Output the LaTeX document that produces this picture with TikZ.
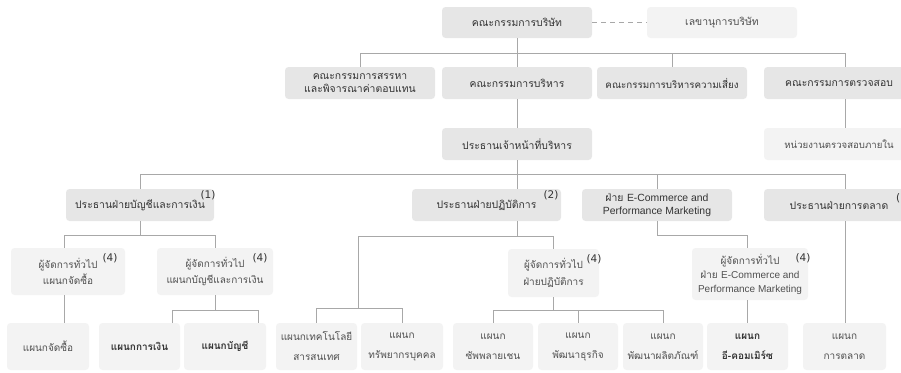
\documentclass[tikz,border=0pt]{standalone}
\usepackage{fontspec}
\setmainfont[Script=Thai]{Loma}
\newfontfamily\lat{Liberation Sans}
\newfontfamily\supf{DejaVu Sans}
\definecolor{boxdark}{HTML}{E6E6E6}
\definecolor{boxlight}{HTML}{F3F3F3}
\definecolor{txtc}{HTML}{333333}
\definecolor{txtl}{HTML}{505050}
\definecolor{linec}{HTML}{A8A8A8}
\begin{document}
\begin{tikzpicture}[x=1pt,y=-1pt,
  bx/.style={rectangle, rounded corners=3.5pt, fill=boxdark, text=txtc, align=center, inner sep=0pt, font=\fontsize{10.4}{13.5}\selectfont},
  lbx/.style={bx, fill=boxlight, text=txtl, font=\fontsize{10}{13}\selectfont},
  tbx/.style={bx, fill=boxlight, text=txtl},
  mbx/.style={lbx, font=\fontsize{10}{16.5}\selectfont},
  dbx/.style={lbx, font=\fontsize{10}{20}\selectfont, minimum height=47pt},
  bdx/.style={dbx, text=txtc, font=\bfseries\fontsize{10}{20}\selectfont},
  conn/.style={draw=linec, line width=0.8pt},
  supn/.style={inner sep=0pt, text=txtc, font=\supf\fontsize{10.5}{12}\selectfont}]
\useasboundingbox (0,0) rectangle (901,372);
\clip (0,0) rectangle (901,372);
% row 0
\node[bx, minimum width=150pt, minimum height=31pt] (board) at (517,22.5) {คณะกรรมการบริษัท};
\node[tbx, minimum width=150pt, minimum height=31pt] (sec) at (722,22.5) {เลขานุการบริษัท};
% row 1
\node[bx, minimum width=150pt, minimum height=32pt] (nom) at (360,83) {คณะกรรมการสรรหา\\และพิจารณาค่าตอบแทน};
\node[bx, minimum width=150pt, minimum height=32pt] (exec) at (517,83) {คณะกรรมการบริหาร};
\node[bx, minimum width=150pt, minimum height=32pt, font=\fontsize{9.8}{13}\selectfont] (risk) at (672,83) {คณะกรรมการบริหารความเสี่ยง};
\node[bx, minimum width=150pt, minimum height=32pt] (audit) at (839,83) {คณะกรรมการตรวจสอบ};
% row 2
\node[bx, minimum width=150pt, minimum height=32pt] (ceo) at (517,144) {ประธานเจ้าหน้าที่บริหาร};
\node[tbx, minimum width=150pt, minimum height=32pt, font=\fontsize{9.6}{13}\selectfont] (ia) at (839,144) {หน่วยงานตรวจสอบภายใน};
% row 3
\node[bx, minimum width=148pt, minimum height=32pt] (cfo) at (140,205) {ประธานฝ่ายบัญชีและการเงิน};
\node[bx, minimum width=149pt, minimum height=32pt] (coo) at (486.5,205) {ประธานฝ่ายปฏิบัติการ};
\node[bx, minimum width=150pt, minimum height=32pt] (ecom) at (657,205) {ฝ่าย {\lat E-Commerce and}\\{\lat Performance Marketing}};
\node[bx, minimum width=150pt, minimum height=32pt] (mkt) at (839,205) {ประธานฝ่ายการตลาด};
% row 4
\node[mbx, minimum width=114pt, minimum height=47pt] (m1) at (68,271.5) {ผู้จัดการทั่วไป\\แผนกจัดซื้อ};
\node[mbx, minimum width=116pt, minimum height=47pt] (m2) at (215,271.5) {ผู้จัดการทั่วไป\\แผนกบัญชีและการเงิน};
\node[mbx, minimum width=91pt, minimum height=48pt] (m3) at (553.5,273) {ผู้จัดการทั่วไป\\ฝ่ายปฏิบัติการ};
\node[lbx, font=\fontsize{10}{14}\selectfont, minimum width=116pt, minimum height=52pt] (m4) at (750,274) {ผู้จัดการทั่วไป\\ฝ่าย {\lat E-Commerce and}\\{\lat Performance Marketing}};
% row 5
\node[dbx, minimum width=82pt] (d1) at (48,346.5) {แผนกจัดซื้อ};
\node[bdx, minimum width=81pt] (d2) at (139.5,346.5) {แผนกการเงิน};
\node[bdx, minimum width=82pt] (d3) at (225,346.5) {แผนกบัญชี};
\node[dbx, minimum width=81pt] (d4) at (316.5,346.5) {แผนกเทคโนโลยี\\สารสนเทศ};
\node[dbx, minimum width=82pt] (d5) at (402,346.5) {แผนก\\ทรัพยากรบุคคล};
\node[dbx, minimum width=80pt] (d6) at (493,346.5) {แผนก\\ซัพพลายเชน};
\node[dbx, minimum width=80pt] (d7) at (578,346.5) {แผนก\\พัฒนาธุรกิจ};
\node[dbx, minimum width=80pt] (d8) at (663,346.5) {แผนก\\พัฒนาผลิตภัณฑ์};
\node[bdx, minimum width=81pt] (d9) at (747.5,346.5) {แผนก\\อี-คอมเมิร์ซ};
\node[dbx, minimum width=83pt] (d10) at (844.5,346.5) {แผนก\\การตลาด};
% superscripts
\node[supn] (s1) at (208,195) {(1)};
\node[supn] (s2) at (551,195) {(2)};
\node[supn, anchor=west] (s3) at (896,198) {(3)};
\node[supn] (s4a) at (110,258) {(4)};
\node[supn] (s4b) at (260,258) {(4)};
\node[supn] (s4c) at (594,259) {(4)};
\node[supn] (s4d) at (803,258) {(4)};
% connectors
\draw[conn, dash pattern=on 5pt off 4pt] (board.east) -- (sec.west);
\coordinate (b1L) at (360,53);
\coordinate (b1R) at (845,53);
\draw[conn] (board.south) -- (board.south |- b1L);
\draw[conn] (nom.north) -- (nom.north |- b1L) -- (b1R) -- (b1R |- audit.north);
\draw[conn] (exec.north) -- (exec.north |- b1L);
\draw[conn] (risk.north) -- (risk.north |- b1L);
\draw[conn] (exec.south) -- (ceo.north);
\draw[conn] (b1R |- audit.south) -- (b1R |- ia.north);
\coordinate (b2L) at (140,174);
\coordinate (b2R) at (845,174);
\draw[conn] (ceo.south) -- (ceo.south |- b2L);
\draw[conn] (cfo.north) -- (cfo.north |- b2L) -- (b2R) -- (b2R |- mkt.north);
\draw[conn] (ceo.south |- b2L) -- (ceo.south |- coo.north);
\draw[conn] (ecom.north) -- (ecom.north |- b2L);
\draw[conn] (b2R |- mkt.south) -- (b2R |- d10.north);
% cfo branch
\coordinate (b3L) at (64,235);
\coordinate (b3R) at (215,235);
\draw[conn] (cfo.south) -- (cfo.south |- b3L);
\draw[conn] (b3L |- m1.north) -- (b3L) -- (b3R) -- (b3R |- m2.north);
\draw[conn] (b3L |- m1.south) -- (b3L |- d1.north);
\coordinate (b7L) at (172,310);
\coordinate (b7R) at (258,310);
\draw[conn] (m2.south) -- (m2.south |- b7L);
\draw[conn] (b7L |- d2.north) -- (b7L) -- (b7R) -- (b7R |- d3.north);
% coo branch
\coordinate (b4L) at (358,236);
\draw[conn] (ceo.south |- coo.south) -- (ceo.south |- b4L);
\draw[conn] (b4L) -- (m3.north |- b4L) -- (m3.north);
\coordinate (b5) at (358,308);
\draw[conn] (b4L) -- (b5);
\draw[conn] (d4.north) -- (d4.north |- b5) -- (d5.north |- b5) -- (d5.north);
\coordinate (b8) at (553.5,310);
\draw[conn] (m3.south) -- (b8);
\draw[conn] (d6.north) -- (d6.north |- b8) -- (d8.north |- b8) -- (d8.north);
\draw[conn] (d7.north) -- (d7.north |- b8);
% ecom branch
\coordinate (b6R) at (747,235);
\draw[conn] (ecom.south) -- (ecom.south |- b6R) -- (b6R) -- (b6R |- m4.north);
\draw[conn] (b6R |- m4.south) -- (b6R |- d9.north);
\end{tikzpicture}
\end{document}
